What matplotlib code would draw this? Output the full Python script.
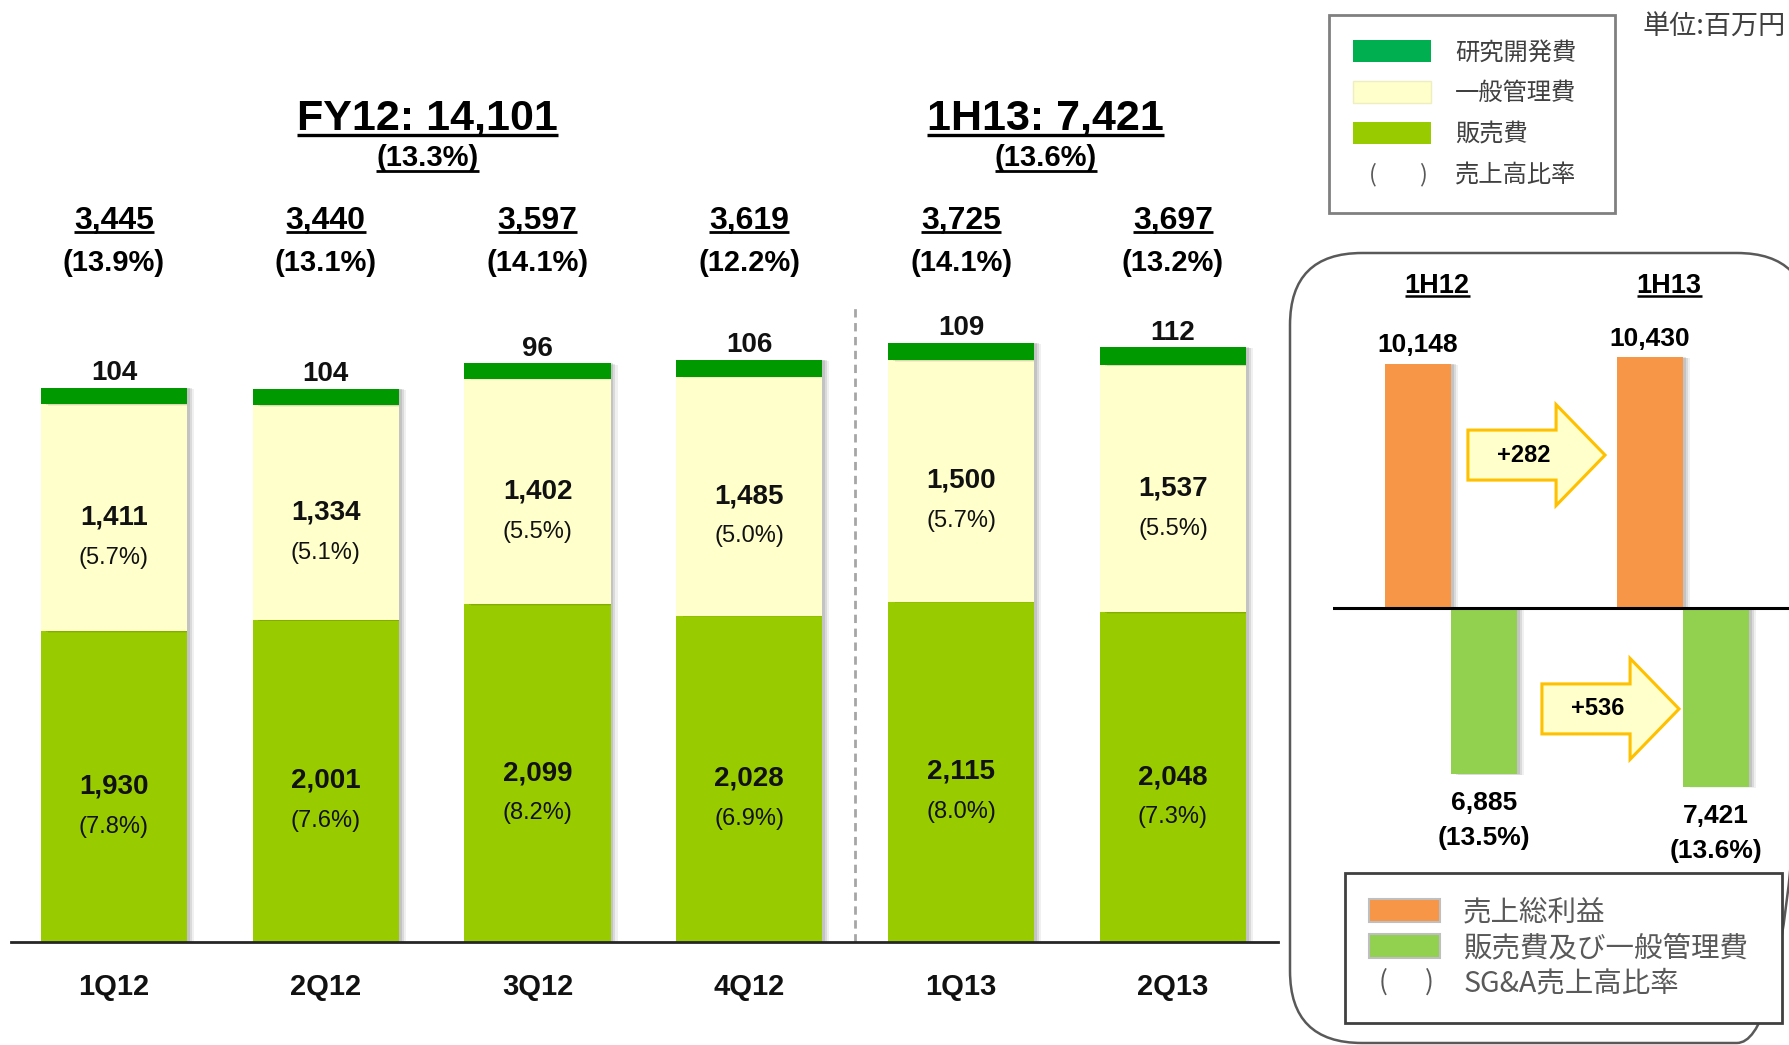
import matplotlib
matplotlib.use('Agg')
import matplotlib.pyplot as plt
import matplotlib.patheffects as pe
import matplotlib.text as mtext
from matplotlib.patches import Patch, FancyBboxPatch, FancyArrow
from matplotlib.lines import Line2D
from matplotlib.legend_handler import HandlerBase
from matplotlib.font_manager import FontProperties
from matplotlib.transforms import blended_transform_factory
import numpy as np

# ---------------- data ----------------
quarters = ['1Q12', '2Q12', '3Q12', '4Q12', '1Q13', '2Q13']
rnd = [104, 104, 96, 106, 109, 112]
admin = [1411, 1334, 1402, 1485, 1500, 1537]
admin_pct = ['(5.7%)', '(5.1%)', '(5.5%)', '(5.0%)', '(5.7%)', '(5.5%)']
sales = [1930, 2001, 2099, 2028, 2115, 2048]
sales_pct = ['(7.8%)', '(7.6%)', '(8.2%)', '(6.9%)', '(8.0%)', '(7.3%)']
totals = ['3,445', '3,440', '3,597', '3,619', '3,725', '3,697']
total_pct = ['(13.9%)', '(13.1%)', '(14.1%)', '(12.2%)', '(14.1%)', '(13.2%)']
period_titles = ['FY12: 14,101', '1H13: 7,421']
period_pcts = ['(13.3%)', '(13.6%)']

halves = ['1H12', '1H13']
gross_profit = [10148, 10430]
sga = [6885, 7421]
sga_pct = ['(13.5%)', '(13.6%)']

legend1_labels = ['研究開発費', '一般管理費', '販売費', '売上高比率']
legend2_labels = ['売上総利益', '販売費及び一般管理費', 'SG&A売上高比率']
unit_label = '単位:百万円'

# ---------------- style ----------------
C_RND = '#009900'
C_RND_LEG = '#00B050'
C_ADMIN = '#FFFFCC'
C_SALES = '#99CC00'
C_GP = '#F79646'
C_SGA = '#92D050'
CJK = ['Noto Sans CJK JP', 'DejaVu Sans']

plt.rcParams['font.family'] = ['Liberation Sans', 'DejaVu Sans']

W, H = 1789, 1045
fig = plt.figure(figsize=(W / 100, H / 100), dpi=100)


def px_rect(l, t, r, b):
    return [l / W, 1 - b / H, (r - l) / W, (b - t) / H]


def fy(px):
    return 1 - px / H


shadow = [pe.SimplePatchShadow(offset=(5, -1), shadow_rgbFace='#000000', alpha=0.06),
          pe.SimplePatchShadow(offset=(3.5, -0.5), shadow_rgbFace='#000000', alpha=0.09),
          pe.SimplePatchShadow(offset=(2, 0), shadow_rgbFace='#000000', alpha=0.10),
          pe.Normal()]

# ---------------- frame overlay (pixel units) ----------------
ov = fig.add_axes([0, 0, 1, 1], zorder=-1)
ov.set_xlim(0, W)
ov.set_ylim(H, 0)
ov.axis('off')
box = FancyBboxPatch((1290, 253), 519, 790, boxstyle='round,pad=0,rounding_size=72',
                     fc='none', ec='#595959', lw=1.8, clip_on=True)
ov.add_patch(box)

# ---------------- main stacked chart ----------------
ax = fig.add_axes(px_rect(11, 250, 1278, 942))
ax.set_xlim(-0.486, 5.496)
ax.set_ylim(0, 4300)
x = np.arange(len(quarters))
sales_a = np.array(sales)
admin_a = np.array(admin)
rnd_a = np.array(rnd)
bw = 0.69
b1 = ax.bar(x, sales_a, width=bw, color=C_SALES, zorder=2)
b2 = ax.bar(x, admin_a, bottom=sales_a, width=bw, color=C_ADMIN, zorder=2)
b3 = ax.bar(x, rnd_a, bottom=sales_a + admin_a, width=bw, color=C_RND, zorder=2)
for cont in (b1, b2, b3):
    for p in cont:
        p.set_path_effects(shadow)

for s in ['top', 'right', 'left']:
    ax.spines[s].set_visible(False)
ax.spines['bottom'].set_linewidth(2)
ax.spines['bottom'].set_color('#262626')
ax.spines['bottom'].set_zorder(3)
ax.set_yticks([])
ax.set_xticks(x)
ax.set_xticklabels(quarters, fontsize=21, fontweight='bold', color='#111111')
ax.tick_params(axis='x', length=0, pad=22)
ax.axvline(3.5, ymin=0, ymax=(942 - 306) / 692, color='#A6A6A6', ls=(0, (3, 2)), lw=2, zorder=1)

for i in range(len(quarters)):
    # sales segment
    ax.annotate(f'{sales[i]:,}', (x[i], sales[i] / 2), ha='center', va='center',
                fontsize=20, fontweight='bold', color='#111111')
    ax.annotate(sales_pct[i], (x[i], sales[i] / 2), xytext=(0, -29), textcoords='offset points',
                ha='center', va='center', fontsize=17, color='#111111')
    # admin segment
    ym = sales[i] + admin[i] / 2
    ax.annotate(f'{admin[i]:,}', (x[i], ym), ha='center', va='center',
                fontsize=20, fontweight='bold', color='#111111')
    ax.annotate(admin_pct[i], (x[i], ym), xytext=(0, -29), textcoords='offset points',
                ha='center', va='center', fontsize=17, color='#111111')
    # R&D on top
    ax.annotate(f'{rnd[i]:,}', (x[i], sales[i] + admin[i] + rnd[i]), xytext=(0, 1),
                textcoords='offset points', ha='center', va='bottom',
                fontsize=20, fontweight='bold', color='#111111')

tb = blended_transform_factory(ax.transData, fig.transFigure)
underlined = []
for i in range(len(quarters)):
    t = ax.text(x[i], fy(228.5), totals[i], transform=tb, ha='center', va='baseline',
                fontsize=23, fontweight='bold', color='black')
    underlined.append((t, 3.5, 2.0))
    ax.text(x[i], fy(271), total_pct[i], transform=tb, ha='center', va='baseline',
            fontsize=21, fontweight='bold', color='black')

period_x = [1.48, 4.40]
for px_, title, pct in zip(period_x, period_titles, period_pcts):
    t = ax.text(px_, fy(130), title, transform=tb, ha='center', va='baseline',
                fontsize=31, fontweight='bold', color='black')
    underlined.append((t, 5, 2.4))
    t = ax.text(px_, fy(166), pct, transform=tb, ha='center', va='baseline',
                fontsize=21, fontweight='bold', color='black')
    underlined.append((t, 5, 2.0))

# ---------------- right panel ----------------
ax2 = fig.add_axes(px_rect(1333, 319, 1789, 897))
ax2.patch.set_alpha(0)
ax2.set_xlim(-0.5086, 1.457)
ax2.set_ylim(-12000, 12000)
for s in ax2.spines.values():
    s.set_visible(False)
ax2.set_xticks([])
ax2.set_yticks([])
pos2 = np.arange(len(halves))
w2 = 0.285
g1 = ax2.bar(pos2, gross_profit, width=-w2, align='edge', color=C_GP, zorder=2)
g2 = ax2.bar(pos2, -np.array(sga), width=w2, align='edge', color=C_SGA, zorder=2)
for cont in (g1, g2):
    for p in cont:
        p.set_path_effects(shadow)
ax2.axhline(0, color='black', lw=2.2, zorder=3)

tb2 = blended_transform_factory(ax2.transData, fig.transFigure)
for i in range(len(halves)):
    t = ax2.text(pos2[i] - 0.06, fy(293), halves[i], transform=tb2, ha='center', va='baseline',
                 fontsize=19.5, fontweight='bold', color='black')
    underlined.append((t, 3, 1.8))
    ax2.annotate(f'{gross_profit[i]:,}', (pos2[i] - w2 / 2, gross_profit[i]), xytext=(0, 8),
                 textcoords='offset points', ha='center', va='baseline',
                 fontsize=19, fontweight='bold', color='black')
    ax2.annotate(f'{sga[i]:,}', (pos2[i] + w2 / 2, -sga[i]), xytext=(0, -21),
                 textcoords='offset points', ha='center', va='center',
                 fontsize=19, fontweight='bold', color='black')
    ax2.annotate(sga_pct[i], (pos2[i] + w2 / 2, -sga[i]), xytext=(0, -46.5),
                 textcoords='offset points', ha='center', va='center',
                 fontsize=19, fontweight='bold', color='black')

# change arrows
deltas = [gross_profit[1] - gross_profit[0], sga[1] - sga[0]]
arrow_specs = [(0.073, 0.664, 6350, 0.315), (0.392, 0.983, -4190, 0.634)]
for (xs, xe, yc, xt), d in zip(arrow_specs, deltas):
    arr = FancyArrow(xs, yc, xe - xs, 0, width=2076, head_width=4194, head_length=0.211,
                     length_includes_head=True, fc='#FFFFCC', ec='#FFC000', lw=2.2, zorder=4)
    ax2.add_patch(arr)
    ax2.text(xt, yc, f'+{d:,}', ha='center', va='center', fontsize=17, fontweight='bold',
             color='black', zorder=5)


# ---------------- legends ----------------
class ParenMarker:
    pass


class ParenHandler(HandlerBase):
    def __init__(self, size, color, fracs):
        super().__init__()
        self.size = size
        self.color = color
        self.fracs = fracs

    def create_artists(self, legend, orig_handle, xdescent, ydescent, width, height, fontsize, trans):
        arts = []
        for ch, f in zip('()', self.fracs):
            arts.append(mtext.Text(f * width - xdescent, height / 2 - ydescent, ch, ha='center', va='center',
                                   fontsize=self.size, color=self.color, family=CJK, transform=trans))
        return arts


h1 = [Patch(fc=C_RND_LEG, ec='none'), Patch(fc=C_ADMIN, ec='#EEEEC0', lw=1),
      Patch(fc=C_SALES, ec='none'), ParenMarker()]
leg1 = fig.legend(h1, legend1_labels, loc='upper left',
                  bbox_to_anchor=(1329 / W, fy(15) - 0.2, (1615 - 1329) / W, 0.2), mode='expand',
                  bbox_transform=fig.transFigure, borderaxespad=0, frameon=True, fancybox=False,
                  edgecolor='#808080', facecolor='white', framealpha=1,
                  prop=FontProperties(family=CJK, size=17.5), handlelength=3.2, handleheight=1.0,
                  labelspacing=0.62, handletextpad=1.0, borderpad=1.0,
                  handler_map={ParenMarker: ParenHandler(17, '#595959', (0.25, 0.9))})
for t in leg1.get_texts():
    t.set_color('#404040')
leg1.get_frame().set_linewidth(2)

h2 = [Patch(fc=C_GP, ec='#BFBFBF', lw=1.5), Patch(fc=C_SGA, ec='#BFBFBF', lw=1.5), ParenMarker()]
leg2 = fig.legend(h2, legend2_labels, loc='upper left',
                  bbox_to_anchor=(1345 / W, fy(873) - 0.2, (1782 - 1345) / W, 0.2), mode='expand',
                  bbox_transform=fig.transFigure, borderaxespad=0, frameon=True, fancybox=False,
                  edgecolor='#404040', facecolor='white', framealpha=1,
                  prop=FontProperties(family=CJK, size=20.5), handlelength=2.5, handleheight=0.9,
                  labelspacing=0.2, handletextpad=0.8, borderpad=0.85,
                  handler_map={ParenMarker: ParenHandler(19, '#595959', (0.2, 0.85))})
for t in leg2.get_texts():
    t.set_color('#595959')
leg2.get_frame().set_linewidth(2)

fig.text(1642 / W, fy(27), unit_label, ha='left', va='center', fontsize=19.5, color='#404040',
         family=CJK)

# ---------------- underlines ----------------
renderer = fig.canvas.get_renderer()
for t, gap, lw in underlined:
    bb = t.get_window_extent(renderer)
    _, yb = t.get_transform().transform(t.get_position())
    y = yb - gap
    fig.add_artist(Line2D([bb.x0 / W, bb.x1 / W], [y / H, y / H], transform=fig.transFigure,
                          color='black', lw=lw, solid_capstyle='butt'))

fig.savefig('out.png', dpi=100)
